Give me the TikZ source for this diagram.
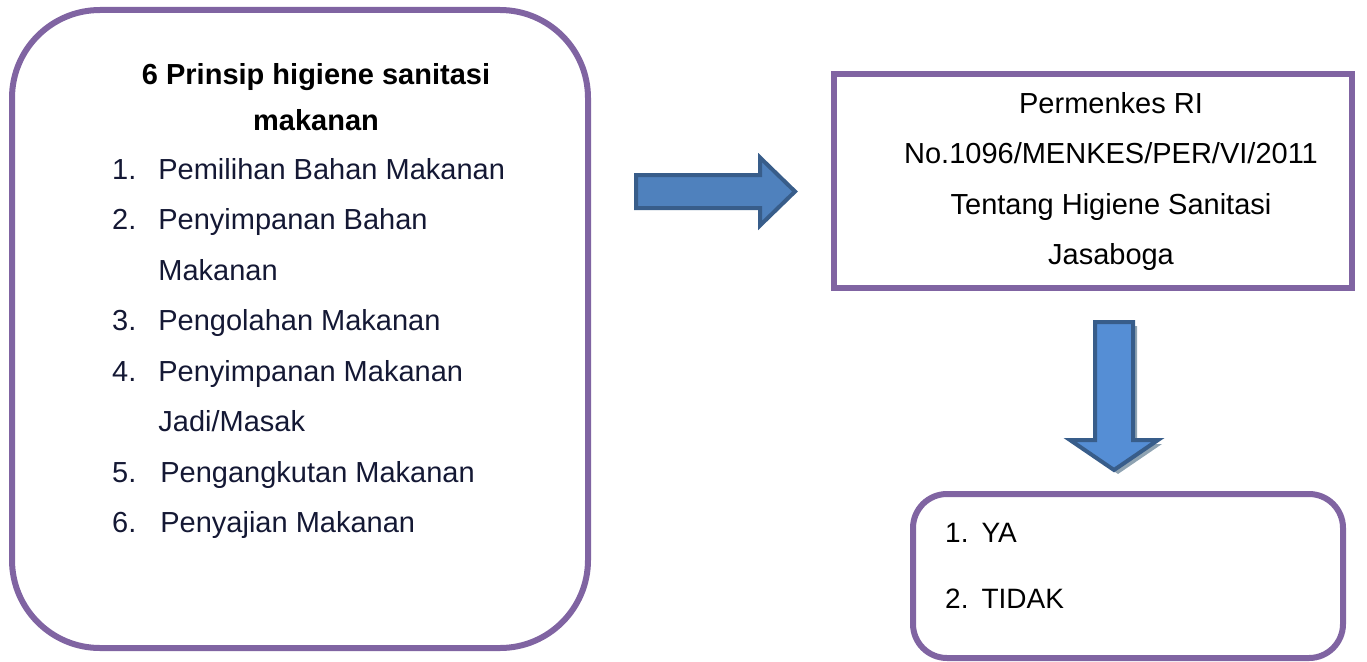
\documentclass[tikz,border=0pt]{standalone}
\usepackage{fontspec}
\setmainfont{Liberation Sans}
\usetikzlibrary{positioning}
\definecolor{frame}{RGB}{128,100,162}
\definecolor{arrowfill}{RGB}{79,129,189}
\definecolor{arrowline}{RGB}{56,93,138}
\definecolor{arrowlight}{RGB}{85,142,213}
\definecolor{arrowshade}{RGB}{143,163,178}
\definecolor{listtext}{RGB}{20,24,52}

\begin{document}
\begin{tikzpicture}[x=1pt, y=-1pt,
  bodytext/.style={font=\fontsize{29}{50.5}\selectfont, inner sep=0pt},
  blockarrow/.style={draw=arrowline, line width=4pt, line join=miter}]
\useasboundingbox (0,0) rectangle (1367,661);

% frames
\node (prinsip) [draw=frame, line width=6pt, rounded corners=88pt, minimum width=576pt, minimum height=638pt] at (300,329) {};
\node (permenkes) [draw=frame, line width=6pt, minimum width=518pt, minimum height=214pt] at (1093,181) {};
\node (jawaban) [draw=frame, line width=6pt, rounded corners=34pt, minimum width=430pt, minimum height=164pt] at (1128,576) {};

% left box text
\node (judul) [bodytext, font=\bfseries\fontsize{29}{47}\selectfont, anchor=base] at (316,84)
  {\begin{tabular}[t]{@{}c@{}}6 Prinsip higiene sanitasi\\makanan\end{tabular}};
\node (daftar) [bodytext, text=listtext, anchor=base west] at (112,179)
  {\begin{tabular}[t]{@{}l@{\hspace{22pt}}l@{}}
   1. & Pemilihan Bahan Makanan\\
   2. & Penyimpanan Bahan\\
      & Makanan\\
   3. & Pengolahan Makanan\\
   4. & Penyimpanan Makanan\\
      & Jadi/Masak\\
   5. & \hspace{2pt}Pengangkutan Makanan\\
   6. & \hspace{2pt}Penyajian Makanan
   \end{tabular}};

% right box text
\node (aturan) [bodytext, anchor=base] at (1111,113)
  {\begin{tabular}[t]{@{}c@{}}Permenkes RI\\No.1096/MENKES/PER/VI/2011\\Tentang Higiene Sanitasi\\Jasaboga\end{tabular}};

% answer box text
\node (pilihan) [bodytext, font=\fontsize{28}{66}\selectfont, anchor=base west] at (945,542)
  {\begin{tabular}[t]{@{}l@{\hspace{13pt}}l@{}}1. & YA\\2. & TIDAK\end{tabular}};

% block arrows
\coordinate (kanan) at (636,191.5);
\draw [blockarrow, fill=arrowfill, shift={(kanan)}]
  (0,-16.5) -- (124,-16.5) -- (124,-34) -- (159,0) -- (124,34) -- (124,16.5) -- (0,16.5) -- cycle;

\coordinate (bawah) at (1114,322);
\fill [arrowshade, shift={(bawah)}, xshift=4pt, yshift=-4pt]
  (-19,0) -- (19,0) -- (19,118) -- (44,118) -- (0,148) -- (-44,118) -- (-19,118) -- cycle;
\draw [blockarrow, fill=arrowlight, shift={(bawah)}]
  (-19,0) -- (19,0) -- (19,118) -- (44,118) -- (0,148) -- (-44,118) -- (-19,118) -- cycle;
\end{tikzpicture}
\end{document}
